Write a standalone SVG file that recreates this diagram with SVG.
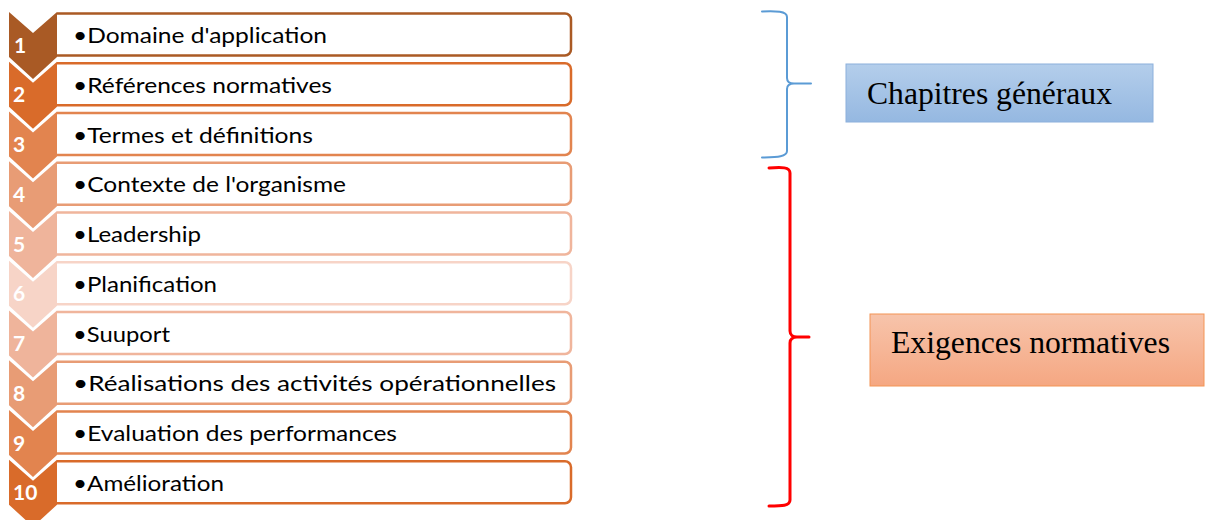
<svg xmlns="http://www.w3.org/2000/svg" width="1209" height="520" viewBox="0 0 1209 520">
<defs>
<style>
.box{fill:#fff;stroke-width:2.5;}
.lbl{font-family:Lato,"Liberation Sans",sans-serif;font-size:21px;fill:#000;}
.num{font-family:Lato,"Liberation Sans",sans-serif;font-size:21px;font-weight:bold;fill:#fff;}
.big{font-family:"Liberation Serif","Times New Roman",serif;font-size:31px;fill:#000;}
</style>
<linearGradient id="gBlue" x1="0" y1="0" x2="0" y2="1"><stop offset="0" stop-color="#B4CEEB"/><stop offset="1" stop-color="#95B8E1"/></linearGradient>
<linearGradient id="gOrange" x1="0" y1="0" x2="0" y2="1"><stop offset="0" stop-color="#F7C4AB"/><stop offset="1" stop-color="#F5A782"/></linearGradient>
<path id="chev" d="M9,-1.5 L33,19.5 L57,-1.5 L57,43.5 L33,65.5 L9,43.5 Z"/>
<path id="frame" d="M57,0 H565 A6,6 0 0 1 571,6 V36 A6,6 0 0 1 565,42 H57"/>
</defs>
<rect width="1209" height="520" fill="#fff"/>

<g id="row1" transform="translate(0,13.5)">
<use href="#frame" class="box" stroke="#AA5A24"/><use href="#chev" fill="#A95A25"/>
<text class="num" x="14" y="39" font-weight="normal">1</text>
<text class="lbl" x="73" y="29.5" textLength="254" lengthAdjust="spacingAndGlyphs">•Domaine d'application</text>
</g>
<g id="row2" transform="translate(0,63.25)">
<use href="#frame" class="box" stroke="#D96B2A"/><use href="#chev" fill="#D96B2A"/>
<text class="num" x="13" y="39">2</text>
<text class="lbl" x="73" y="29.5" textLength="259" lengthAdjust="spacingAndGlyphs">•Références normatives</text>
</g>
<g id="row3" transform="translate(0,113)">
<use href="#frame" class="box" stroke="#E2844F"/><use href="#chev" fill="#E2844F"/>
<text class="num" x="13" y="39">3</text>
<text class="lbl" x="73" y="29.5" textLength="240" lengthAdjust="spacingAndGlyphs">•Termes et définitions</text>
</g>
<g id="row4" transform="translate(0,162.75)">
<use href="#frame" class="box" stroke="#E89C75"/><use href="#chev" fill="#E89C75"/>
<text class="num" x="13" y="39">4</text>
<text class="lbl" x="73" y="29.5" textLength="273" lengthAdjust="spacingAndGlyphs">•Contexte de l'organisme</text>
</g>
<g id="row5" transform="translate(0,212.5)">
<use href="#frame" class="box" stroke="#F0B59C"/><use href="#chev" fill="#EFB49B"/>
<text class="num" x="13" y="39">5</text>
<text class="lbl" x="73" y="29.5" textLength="128" lengthAdjust="spacingAndGlyphs">•Leadership</text>
</g>
<g id="row6" transform="translate(0,262.25)">
<use href="#frame" class="box" stroke="#F7D4C7"/><use href="#chev" fill="#F7D4C7"/>
<text class="num" x="13" y="39">6</text>
<text class="lbl" x="73" y="29.5" textLength="144" lengthAdjust="spacingAndGlyphs">•Planification</text>
</g>
<g id="row7" transform="translate(0,312)">
<use href="#frame" class="box" stroke="#F0B59C"/><use href="#chev" fill="#EFB49B"/>
<text class="num" x="13" y="39">7</text>
<text class="lbl" x="73" y="29.5" textLength="97" lengthAdjust="spacingAndGlyphs">•Suuport</text>
</g>
<g id="row8" transform="translate(0,361.75)">
<use href="#frame" class="box" stroke="#E89C75"/><use href="#chev" fill="#E89C75"/>
<text class="num" x="13" y="39">8</text>
<text class="lbl" x="73" y="29.5" textLength="483" lengthAdjust="spacingAndGlyphs">•Réalisations des activités opérationnelles</text>
</g>
<g id="row9" transform="translate(0,411.5)">
<use href="#frame" class="box" stroke="#E2844F"/><use href="#chev" fill="#E2844F"/>
<text class="num" x="13" y="39">9</text>
<text class="lbl" x="73" y="29.5" textLength="324" lengthAdjust="spacingAndGlyphs">•Evaluation des performances</text>
</g>
<g id="row10" transform="translate(0,461.25)">
<use href="#frame" class="box" stroke="#D96B2A"/><use href="#chev" fill="#D96B2A"/>
<text class="num" x="13" y="39">10</text>
<text class="lbl" x="73" y="29.5" textLength="151" lengthAdjust="spacingAndGlyphs">•Amélioration</text>
</g>

<g id="connectors" fill="none" stroke-linecap="round">
<path d="M762,11.5 C776,11 787,11 787,17 V78 C787,82 790,83.5 794,83.5 H811 M794,83.5 C790,83.5 787,85 787,89 V151 C787,157 776,157 762,157.5" stroke="#5B9BD5" stroke-width="2"/>
<path d="M769,168 C782,167 790,167 790,173 V331 C790,335 793,337 797,337 H809 M797,337 C793,337 790,339 790,343 V500 C790,506 782,506 769,506" stroke="#FF0000" stroke-width="3"/>
</g>

<g id="chapitres">
<rect x="846" y="64" width="307" height="58" fill="url(#gBlue)" stroke="#8CB0DC" stroke-width="1"/>
<text class="big" x="867" y="104" textLength="245" lengthAdjust="spacingAndGlyphs">Chapitres généraux</text>
</g>
<g id="exigences">
<rect x="870" y="314" width="334" height="72" fill="url(#gOrange)" stroke="#F39455" stroke-width="1"/>
<text class="big" x="891" y="353" textLength="279" lengthAdjust="spacingAndGlyphs">Exigences normatives</text>
</g>
</svg>
